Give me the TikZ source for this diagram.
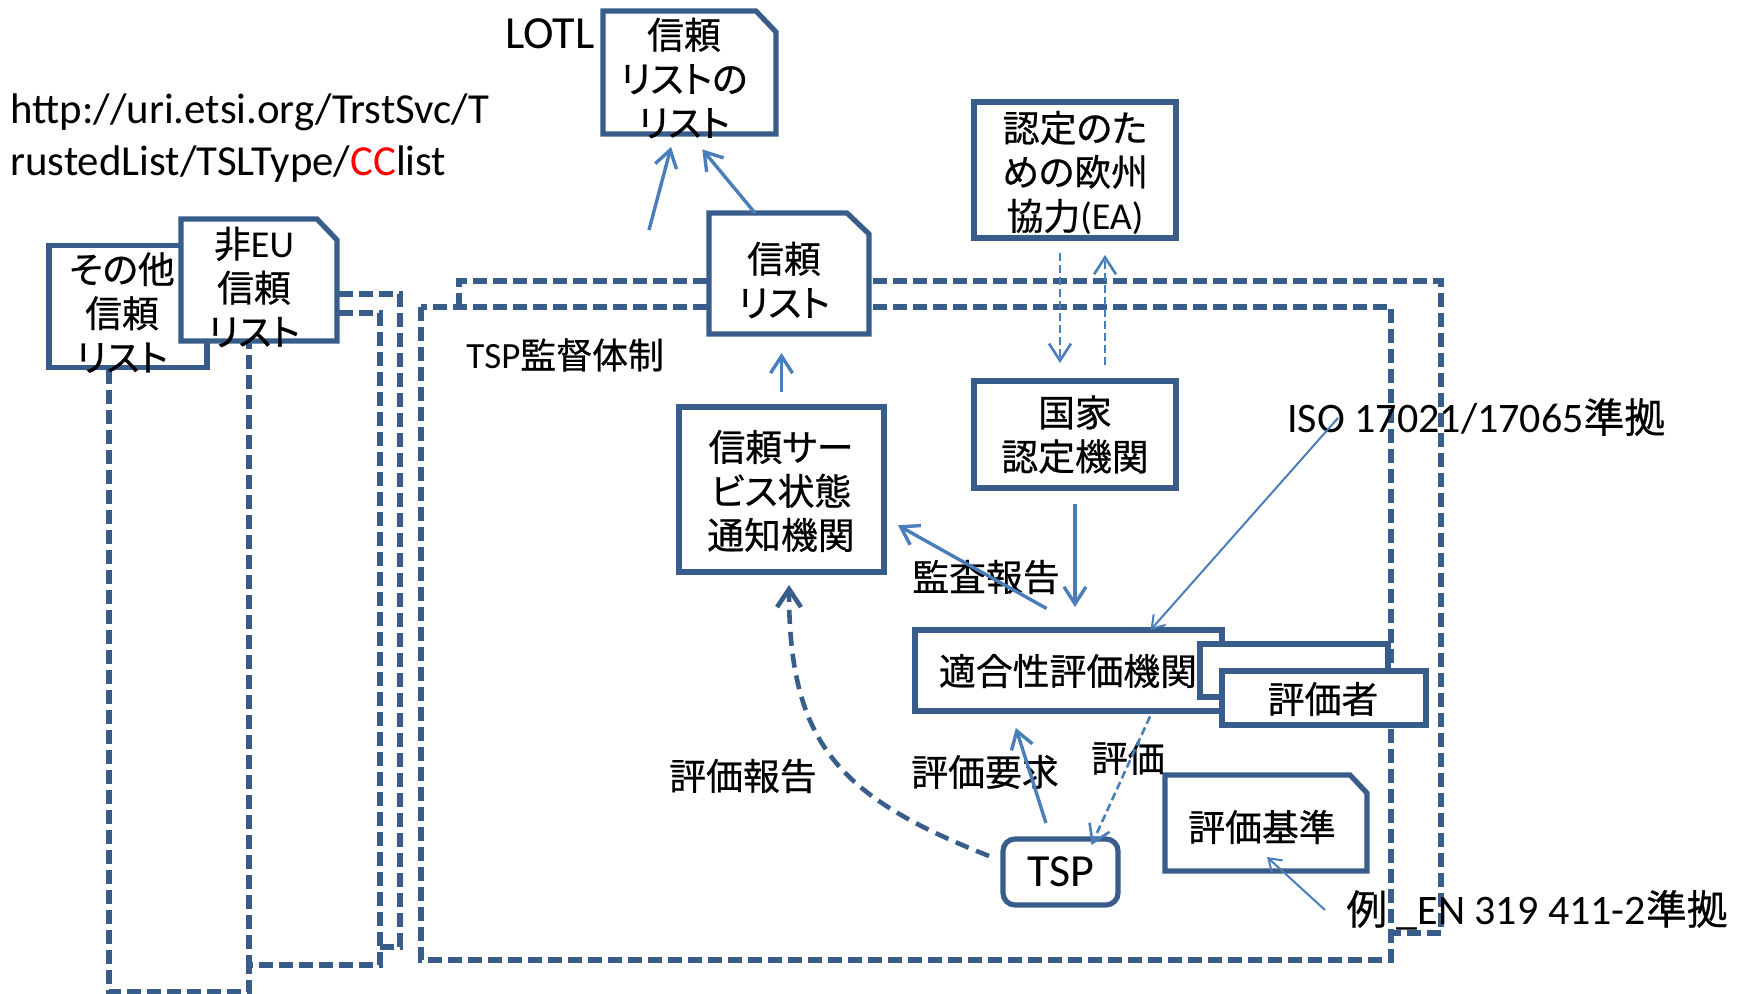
\documentclass[tikz,border=0pt]{standalone}
\usepackage{fontspec}
\setmainfont{Carlito}
\newfontfamily\jpfont[Scale=0.97,RawFeature=+palt,FakeBold=0.6]{Noto Sans CJK JP}
\usetikzlibrary{arrows.meta,calc}

\begin{document}
\begin{tikzpicture}[x=0.5pt,y=0.5pt,yscale=-1,xscale=1,
  boxline/.style={draw={rgb, 255:red, 56; green, 93; blue, 138}, line width=2.6pt, fill=white},
  box/.style={boxline, inner sep=0pt, outer sep=0pt},
  snipbox/.style={inner sep=0pt, outer sep=0pt},
  txt/.style={inner sep=0pt, align=center, font=\jpfont\fontsize{19}{22}\selectfont},
  biglbl/.style={inner sep=0pt, font=\fontsize{21}{24}\selectfont},
  frame/.style={draw={rgb, 255:red, 56; green, 93; blue, 138}, line width=2.8pt, dash pattern=on 7pt off 3pt},
  arr/.style={draw={rgb, 255:red, 74; green, 126; blue, 187}, line width=1.7pt, -{Straight Barb[length=8.5pt,width=11pt]}},
  thinarr/.style={arr, line width=1pt, -{Straight Barb[length=6pt,width=8pt]}},
  dasharr/.style={arr, line width=1.3pt, dash pattern=on 4pt off 2pt},
  reparr/.style={draw={rgb, 255:red, 56; green, 93; blue, 138}, line width=2.3pt, dash pattern=on 7pt off 4pt, -{Straight Barb[length=9pt,width=12pt]}}
]
\useasboundingbox (0,0) rectangle (1756,994);

%Dashed frames
\draw[frame] (421,307) rectangle (1391,960);
\draw[frame] (459,307) -- (459,281) -- (1441,281) -- (1441,933) -- (1391,933);
\draw[frame] (339,313) -- (380,313) -- (380,965) -- (249,965) -- (249,343);
\draw[frame] (339,294) -- (400,294) -- (400,947) -- (380,947);
\draw[frame] (109,370) -- (109,992) -- (249,992) -- (249,965);

%Shape: Snip Rectangle
\node[snipbox, minimum width=86.5pt, minimum height=61.5pt] (lotl) at (689.5,72.5) {};
\draw[boxline] (lotl.south west) -- (lotl.north west) -- ($(lotl.north east)+(-20,0)$) -- ($(lotl.north east)+(0,21)$) -- (lotl.south east) -- cycle;
% Text Node
\node[txt] (lotlT) at (684,78) {信頼\\リストの\\リスト};
%Shape: Snip Rectangle
\node[snipbox, minimum width=80pt, minimum height=60.5pt] (tl) at (789,273.5) {};
\draw[boxline] (tl.south west) -- (tl.north west) -- ($(tl.north east)+(-22,0)$) -- ($(tl.north east)+(0,21)$) -- (tl.south east) -- cycle;
% Text Node
\node[txt] (tlT) at (784,280) {信頼\\リスト};
%Shape: Rectangle
\node[box, minimum width=101pt, minimum height=68pt] (ea) at (1075,170) {};
% Text Node
\node[txt] (eaT) at (1075,173) {認定のた\\めの欧州\\協力{\rmfamily(EA)}};
%Shape: Rectangle
\node[box, minimum width=101pt, minimum height=53.5pt] (kokka) at (1075,434.5) {};
% Text Node
\node[txt] (kokkaT) at (1075,434.5) {国家\\認定機関};
%Shape: Rectangle
\node[box, minimum width=102.5pt, minimum height=82.5pt] (tsn) at (781.5,489.5) {};
% Text Node
\node[txt] (tsnT) at (781,491) {信頼サー\\ビス状態\\通知機関};

%Shape: Rectangle
\node[box, minimum width=153.5pt, minimum height=40.5pt] (cab) at (1068.5,670.5) {};
% Text Node
\node[txt] (cabT) at (1068,671) {適合性評価機関};
%Shape: Rectangle
\node[box, minimum width=94pt, minimum height=26.5pt] (evback) at (1294,670.5) {};
%Shape: Rectangle
\node[box, minimum width=102pt, minimum height=27pt] (evr) at (1324,698) {};
% Text Node
\node[txt] (evrT) at (1323,699) {評価者};

%Shape: Rounded Rect
\node[box, rounded corners=6pt, minimum width=57.5pt, minimum height=33pt] (tsp) at (1060.5,872) {};
% Text Node
\node[inner sep=0pt, font=\fontsize{23}{26}\selectfont] (tspT) at (1061,872) {TSP};
%Shape: Snip Rectangle
\node[snipbox, minimum width=101pt, minimum height=48pt] (crit) at (1266,823) {};
\draw[boxline] (crit.south west) -- (crit.north west) -- ($(crit.north east)+(-17,0)$) -- ($(crit.north east)+(0,18)$) -- (crit.south east) -- cycle;
% Text Node
\node[txt] (critT) at (1262,827) {評価基準};

%Shape: Rectangle
\node[box, minimum width=79pt, minimum height=61pt] (other) at (128,306.5) {};
% Text Node
\node[txt] (otherT) at (122,312.5) {その他\\信頼\\リスト};
%Shape: Snip Rectangle
\node[snipbox, minimum width=78pt, minimum height=61pt] (noneu) at (259,280) {};
\draw[boxline] (noneu.south west) -- (noneu.north west) -- ($(noneu.north east)+(-20,0)$) -- ($(noneu.north east)+(0,21)$) -- (noneu.south east) -- cycle;
% Text Node
\node[txt] (noneuT) at (254,287) {非{\rmfamily EU}\\信頼\\リスト};

% Text Node
\node[inner sep=0pt, font=\fontsize{23}{26}\selectfont] (lotlL) at (550,34) {LOTL};
% Text Node
\node[inner sep=0pt, anchor=north west, align=left, font=\fontsize{21.4}{26.3}\selectfont] (uri) at (10,93) {http://uri.etsi.org/TrstSvc/T\\rustedList/TSLType/\textcolor{red}{CC}list};
% Text Node
\node[inner sep=0pt, anchor=west, font=\fontsize{18.5}{22}\selectfont] (tspsys) at (466,355) {TSP{\jpfont 監督体制}};
% Text Node
\node[txt] (audit) at (986,577) {監査報告};
% Text Node
\node[txt] (evrep) at (743,776) {評価報告};
% Text Node
\node[txt] (evreq) at (985,772) {評価要求};
% Text Node
\node[txt] (ev) at (1128,758) {評価};
% Text Node
\node[biglbl, anchor=west] (iso) at (1287,417) {ISO 17021/17065{\jpfont 準拠}};
% Text Node
\node[biglbl, anchor=west] (ex) at (1346,910) {{\jpfont 例} \_EN 319 411-2{\jpfont 準拠}};

%Straight Lines
\coordinate (lotlfoot) at (649,230);
\draw[arr, shorten >=6.7pt] (lotlfoot) -- ($(lotl.south)+(-15,0)$);
\draw[arr, shorten >=10pt] ($(tl.north)+(-34,0)$) -- (lotl.south);
\draw[arr, shorten <=7.5pt, shorten >=9.5pt] (tsn.north) -- (tsn.north |- tl.south);
\draw[dasharr, shorten <=7.5pt, shorten >=9pt] ($(ea.south)+(-15,0)$) -- ($(kokka.north)+(-15,0)$);
\draw[dasharr, shorten <=8pt, shorten >=8.5pt] ($(kokka.north)+(30,0)$) -- ($(ea.south)+(30,0)$);
\draw[arr, shorten <=8pt, shorten >=11.5pt] (kokka.south) -- (kokka.south |- cab.north);
\draw[arr, shorten <=22pt, shorten >=8pt] ($(cab.north)+(16.5,0)$) -- ($(tsn.east)+(0,28)$);
\coordinate (isofoot) at (1338,418);
\draw[thinarr] (isofoot) -- ($(cab.north)+(82,0)$);
\coordinate (critfoot) at (1325,910);
\draw[thinarr] (critfoot) -- ($(crit.south)+(1,-14)$);
\draw[arr, shorten <=8.4pt, shorten >=8.9pt] ($(tsp.north)+(-9.5,0)$) -- ($(cab.south)+(-58,0)$);
\draw[dasharr, shorten <=3pt] ($(cab.south)+(84,0)$) -- ($(tsp.north)+(31,6)$);
%Curve Lines
\draw[reparr] ($(tsp.west)+(-14,-16)$) .. controls +(-149,-59) and +(0,160) .. ($(tsn.south)+(7.5,13)$);

\end{tikzpicture}
\end{document}
